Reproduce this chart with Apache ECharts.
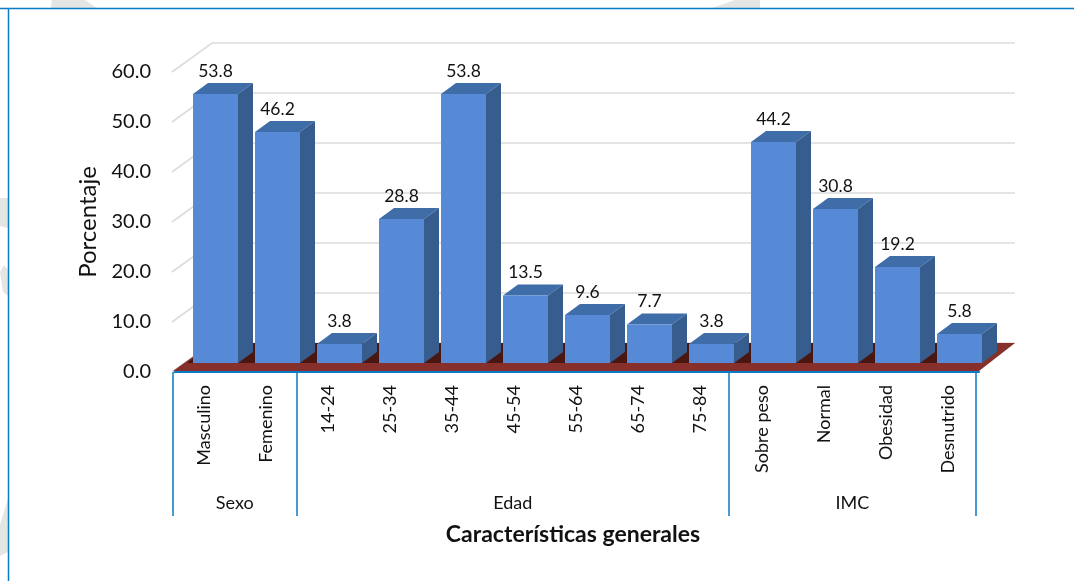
<!DOCTYPE html>
<html><head><meta charset="utf-8">
<style>html,body{margin:0;padding:0;background:#fff}#c{width:1074px;height:581px}</style>
<script src="https://cdn.jsdelivr.net/npm/echarts@6/dist/echarts.min.js"></script>
</head><body><div id="c"></div>
<script>
const categories = ['Masculino','Femenino','14-24','25-34','35-44','45-54','55-64','65-74','75-84','Sobre peso','Normal','Obesidad','Desnutrido'];
const values = [53.8,46.2,3.8,28.8,53.8,13.5,9.6,7.7,3.8,44.2,30.8,19.2,5.8];
const groupNames = ['Sexo','Edad','IMC'];
const groupEdges = [0,2,9,13];
const groupCenters = [1,5.5,11];
const yTicks = [0,10,20,30,40,50,60];

const FONT = 'Lato';
const chart = echarts.init(document.getElementById('c'), null, {renderer:'canvas'});
const BLUE = '#0a7bc8';

function barItem(params, api){
  const i = api.value(0), v = api.value(1);
  const p = api.coord([i, v]), p0 = api.coord([i, 0]);
  const cx = p[0] + 11.5, w = 45, dx = 15, dy = 11, lift = 9;
  const l = cx - w/2, r = cx + w/2, t = p[1] - lift, b = p0[1] - lift;
  return {type:'group', children:[
    {type:'polygon', shape:{points:[[l,t],[r,t],[r+dx,t-dy],[l+dx,t-dy]]}, style:{fill:'#3f6da8'}},
    {type:'polygon', shape:{points:[[r,t],[r+dx,t-dy],[r+dx,b-dy],[r,b]]}, style:{fill:'#375d8e'}},
    {type:'rect', shape:{x:l,y:t,width:w,height:b-t}, style:{fill:'#5689d6'}},
    {type:'text', style:{x:cx, y:t-dy-12, text:api.value(1).toFixed(1), align:'center', verticalAlign:'middle', fill:'#111', font:'17.5px '+FONT}}
  ]};
}
function wallItem(params, api){
  const cs = params.coordSys, v = api.value(0);
  const y = api.coord([0, v])[1], xL = cs.x;
  const style = {stroke:'#dcdcdc', lineWidth:1.6, fill:'none'};
  return {type:'polyline', shape:{points:[[xL-1,y],[xL+39,y-29],[1015,y-29]]}, style};
}
function floorItem(params, api){
  const cs = params.coordSys, y = api.coord([0,0])[1];
  const L = cs.x, R = cs.x+cs.width;
  return {type:'group', children:[
    {type:'polygon', shape:{points:[[L,y-1],[R,y-1],[R+36,y-29],[L+39,y-29]]}, style:{fill:'#87302b'}},
    {type:'polygon', shape:{points:[[L+14,y-9],[R-40,y-9],[R-16,y-29],[L+39,y-29]]}, style:{fill:'#4a1612'}}
  ]};
}
function sq(pts){return {type:'polygon', silent:true, z:0, shape:{points:pts}, style:{fill:'#e4e6e3'}};}

chart.setOption({
  animation:false,
  backgroundColor:'#fff',
  graphic:[
    sq([[51,8],[52,0],[85,0],[97,8]]),
    sq([[712,8],[735,0],[760,0],[760,8]]),
    sq([[0,198],[8,198],[8,228],[0,226]]),
    sq([[0,272],[4,265],[8,270],[8,296],[3,292]]),
    sq([[0,525],[8,498],[8,552],[0,556]]),
    {type:'line', z:5, shape:{x1:0,y1:8.5,x2:1074,y2:8.5}, style:{stroke:BLUE,lineWidth:1.5}},
    {type:'line', z:5, shape:{x1:8.5,y1:8,x2:8.5,y2:581}, style:{stroke:BLUE,lineWidth:1.5}}
  ],
  grid:{left:173,top:72,width:806,height:300,containLabel:false},
  xAxis:[
    {type:'category', data:categories, position:'bottom', boundaryGap:true,
     axisLine:{show:true,lineStyle:{color:BLUE,width:2}}, axisTick:{show:false},
     axisLabel:{rotate:90,interval:0,margin:13,fontSize:18,fontFamily:FONT,color:'#111'},
     splitLine:{show:false}},
    {type:'value', min:0, max:13.05, position:'bottom',
     axisLine:{show:false}, splitLine:{show:false},
     axisTick:{show:true,customValues:groupEdges,length:144,lineStyle:{color:BLUE,width:1.5}},
     axisLabel:{show:true,customValues:groupCenters,margin:122,fontSize:18,fontFamily:FONT,color:'#111',
       formatter:v=>groupNames[groupCenters.indexOf(v)], showMinLabel:true, showMaxLabel:true},
     name:'Características generales', nameLocation:'middle', nameGap:151,
     nameTextStyle:{fontSize:23,fontWeight:'bold',fontFamily:FONT,color:'#111',padding:[0,6,0,0]}}
  ],
  yAxis:{type:'value', min:0, max:60, interval:10,
    axisLine:{show:false}, axisTick:{show:false}, splitLine:{show:false},
    axisLabel:{margin:22,fontSize:20,fontFamily:FONT,color:'#111',padding:[4,0,0,0],formatter:v=>v.toFixed(1)},
    name:'Porcentaje', nameLocation:'middle', nameGap:70,
    nameTextStyle:{fontSize:24,fontFamily:FONT,color:'#111'}},
  series:[
    {type:'custom', name:'grid', xAxisIndex:0, renderItem:wallItem, data:yTicks.map(v=>[v]), encode:{x:[],y:0}, clip:false, silent:true, z:1},
    {type:'custom', name:'floor', xAxisIndex:0, renderItem:floorItem, data:[[0]], clip:false, silent:true, z:2},
    {type:'custom', name:'Porcentaje', xAxisIndex:0, renderItem:barItem, data:values.map((v,i)=>[i,v]), encode:{x:0,y:1}, clip:false, z:3}
  ]
});
</script></body></html>
